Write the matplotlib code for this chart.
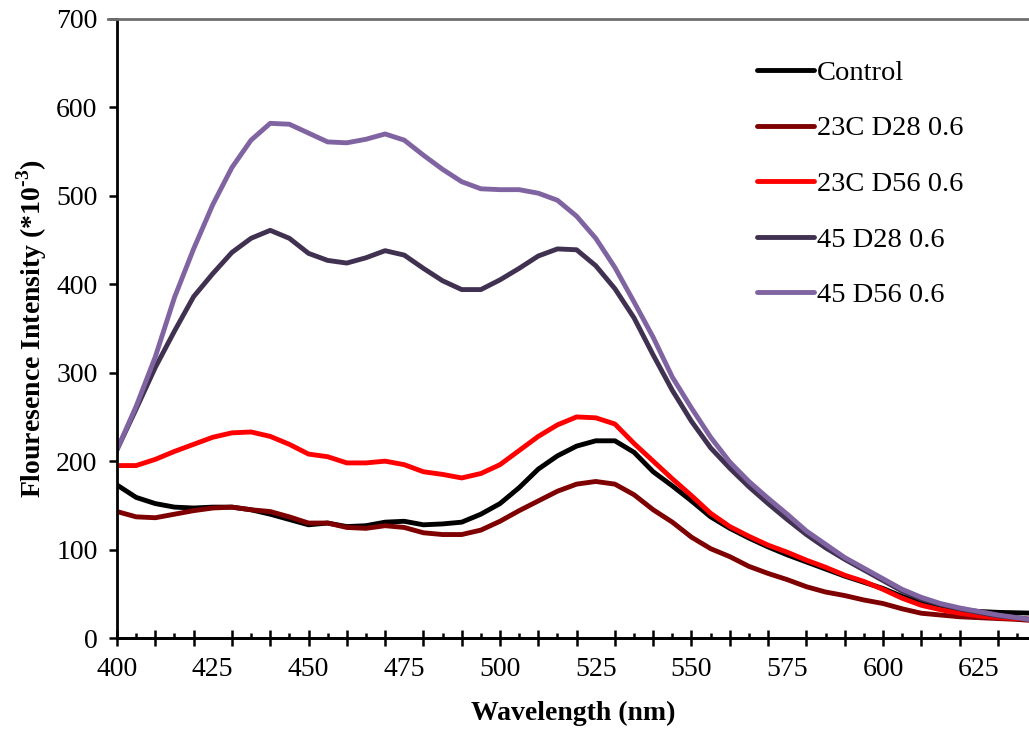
import matplotlib
matplotlib.use('Agg')
import matplotlib.pyplot as plt
import numpy as np

wavelength = list(range(400, 645, 5))

control = [173, 159, 152, 148, 147, 148, 148, 145, 140, 134, 128,
           130, 126, 127, 131, 132, 128, 129, 131, 140, 152,
           170, 191, 206, 217, 223, 223, 210, 188, 172, 155,
           137, 124, 113, 103, 94, 86, 78, 70, 63, 56,
           47, 40, 36, 32, 30, 29, 28.5, 28]
c23_d28 = [143, 137, 136, 140, 144, 147, 148, 145, 143, 137, 130,
           130, 125, 124, 127, 125, 119, 117, 117, 122, 132,
           144, 155, 166, 174, 177, 174, 162, 145, 131, 114,
           101, 92, 81, 73, 66, 58, 52, 48, 43, 39,
           33, 28, 26, 24, 23, 22, 21, 19.5]
c23_d56 = [195, 195, 202, 211, 219, 227, 232, 233, 228, 219, 208,
           205, 198, 198, 200, 196, 188, 185, 181, 186, 196,
           212, 228, 241, 250, 249, 242, 220, 200, 180, 161,
           141, 126, 115, 105, 97, 88, 80, 71, 64, 55,
           45, 37, 32, 28, 25, 23, 22, 21]
c45_d28 = [213, 259, 306, 347, 386, 412, 436, 452, 461, 452, 435,
           427, 424, 430, 438, 433, 418, 404, 394, 394, 405,
           418, 432, 440, 439, 421, 395, 362, 320, 280, 245,
           215, 192, 171, 152, 134, 117, 102, 89, 77, 65,
           53, 44, 38, 33, 29, 25, 23, 20]
c45_d56 = [213, 262, 318, 385, 440, 490, 532, 563, 582, 581, 571,
           561, 560, 564, 570, 563, 546, 530, 516, 508, 507,
           507, 503, 495, 477, 452, 419, 380, 340, 295, 260,
           227, 199, 177, 158, 140, 121, 106, 91, 79, 67,
           55, 46, 39, 34, 30, 26, 23, 20]

series = [
    ("Control", control, "#000000"),
    ("23C D28 0.6", c23_d28, "#7F0000"),
    ("23C D56 0.6", c23_d56, "#FF0000"),
    ("45 D28 0.6", c45_d28, "#403151"),
    ("45 D56 0.6", c45_d56, "#8064A2"),
]

x_labels = list(range(400, 630, 25))
y_ticks = list(range(0, 701, 100))

serif = "Liberation Serif"
plt.rcParams['mathtext.fontset'] = 'custom'
plt.rcParams['mathtext.bf'] = 'Liberation Serif:bold'
plt.rcParams['mathtext.rm'] = 'Liberation Serif:bold'

W, H = 1029, 730
fig = plt.figure(figsize=(W / 100, H / 100), dpi=100)
left, right, top, bottom = 117, 1029, 19, 638
ax = fig.add_axes([left / W, (H - bottom) / H, (right - left) / W, (bottom - top) / H])

for name, vals, col in series:
    ax.plot(wavelength, vals, color=col, lw=3.5, label=name, solid_capstyle='round')

ax.set_xlim(400, 400 + (right - left) / 3.83)
ax.set_ylim(0, 700)

for s in ['top', 'right']:
    ax.spines[s].set_visible(False)
for s in ['left', 'bottom']:
    ax.spines[s].set_linewidth(2.0)
    ax.spines[s].set_color('black')

ax.axhline(700, xmin=-9 / (right - left), xmax=1, color='#6f6f6f', lw=2.0, clip_on=False, zorder=5)

# y axis
ax.set_yticks(y_ticks)
ax.tick_params(axis='y', direction='out', length=6, width=1.8, pad=8, labelsize=20)

# x axis: labels every 25, no marks
ax.set_xticks(x_labels)
ax.tick_params(axis='x', which='major', length=0, pad=14, labelsize=20)
minor = [v for v in range(405, 640, 10)]
ax.set_xticks(minor, minor=True)
ax.tick_params(axis='x', which='minor', direction='in', length=3.5, width=1.8)

sec = ax.secondary_xaxis('bottom')
sec.set_xticks(list(range(400, 640, 10)))
sec.set_xticklabels([])
sec.tick_params(axis='x', direction='inout', length=12, width=1.8)
sec.spines['bottom'].set_linewidth(2.0)

for lab in ax.get_xticklabels() + ax.get_yticklabels():
    lab.set_fontfamily(serif)

ax.set_xlabel("Wavelength (nm)", fontsize=20, fontweight='bold', family=serif, labelpad=13)
ax.set_ylabel("Flouresence Intensity (*10$^{\\mathbf{\u20103}}$)", fontsize=20, fontweight='bold',
              family=serif, labelpad=5)

leg = ax.legend(loc='upper left', bbox_to_anchor=(757 / W, 1 - 60 / H), bbox_transform=fig.transFigure,
                frameon=False, prop={'family': serif, 'size': 20.5}, handlelength=2.0,
                handletextpad=0.1, labelspacing=1.04, borderpad=0, borderaxespad=0)
for lh in leg.get_lines():
    lh.set_linewidth(3.5)

fig.savefig("out.png", dpi=100)
